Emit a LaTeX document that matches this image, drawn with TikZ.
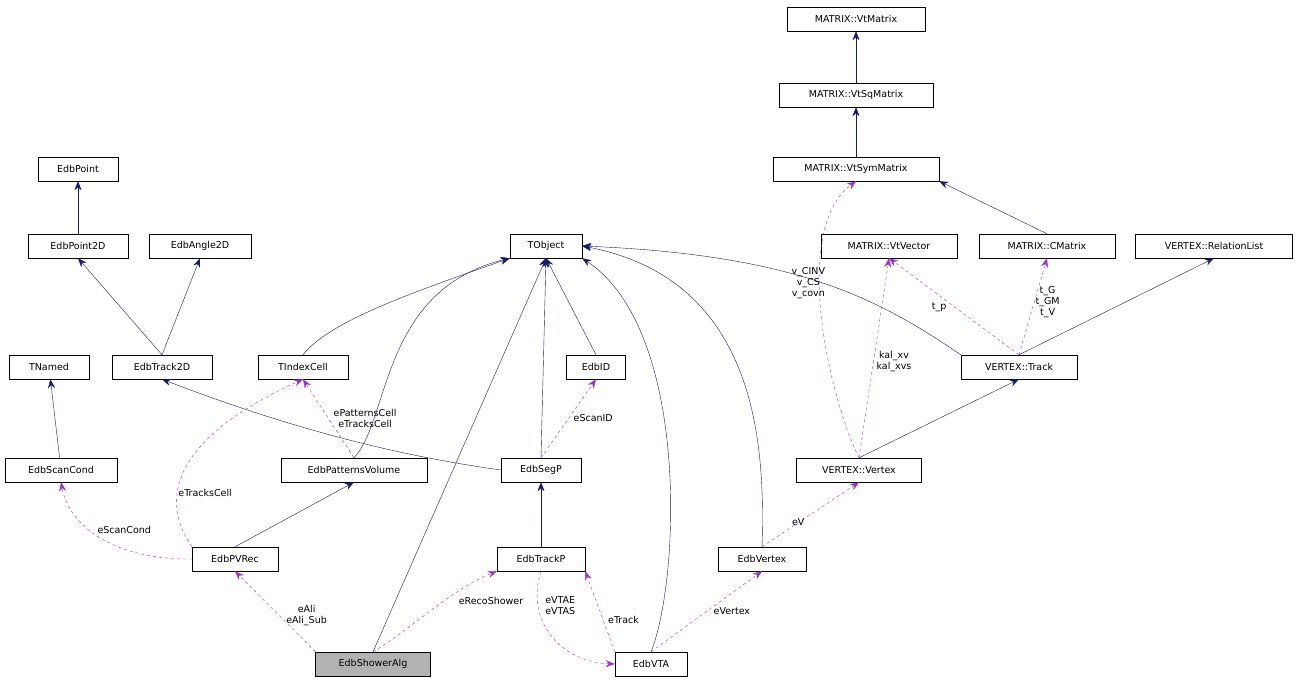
\documentclass[tikz,border=0pt]{standalone}
\usepackage{fontspec}
\setmainfont{DejaVu Sans}
\usetikzlibrary{arrows.meta, positioning}

\definecolor{inh}{HTML}{191970}
\definecolor{usg}{HTML}{9A32CD}
\tikzset{
  cls/.style={draw, fill=white, inner sep=0pt, minimum height=24pt, font=\fontsize{9.5}{11}\selectfont},
  inherit/.style={draw=inh, -{Stealth[length=9pt,width=7pt,fill=inh]}},
  uses/.style={draw=usg, dashed, -{Stealth[length=9pt,width=7pt,fill=usg]}},
  lbl/.style={font=\fontsize{9.5}{11}\selectfont, align=center, inner sep=1pt}
}

\begin{document}
\begin{tikzpicture}[x=1pt, y=-1pt]
  \useasboundingbox (0,0) rectangle (1298,684);

  % matrix library
  \node[cls, minimum width=138pt] (vtm) at (856,19) {MATRIX::VtMatrix};
  \node[cls, minimum width=154pt] (vtsq) at (856,95) {MATRIX::VtSqMatrix};
  \node[cls, minimum width=166pt] (vtsym) at (856,169) {MATRIX::VtSymMatrix};
  \node[cls, minimum width=136pt] (vtvec) at (889,246) {MATRIX::VtVector};
  \node[cls, minimum width=136pt] (cmat) at (1047,246) {MATRIX::CMatrix};
  \node[cls, minimum width=157pt] (rlist) at (1214,246) {VERTEX::RelationList};
  \node[cls, minimum width=116pt] (vtrack) at (1019,367) {VERTEX::Track};
  \node[cls, minimum width=125pt] (vvertex) at (859,470) {VERTEX::Vertex};

  % edb classes
  \node[cls, minimum width=80pt] (point) at (78,169) {EdbPoint};
  \node[cls, minimum width=100pt] (point2d) at (78,246) {EdbPoint2D};
  \node[cls, minimum width=102pt] (angle2d) at (200,246) {EdbAngle2D};
  \node[cls, minimum width=72pt] (tobject) at (546,246) {TObject};
  \node[cls, minimum width=80pt] (tnamed) at (49,367) {TNamed};
  \node[cls, minimum width=100pt] (track2d) at (162,367) {EdbTrack2D};
  \node[cls, minimum width=90pt] (tindex) at (303,367) {TIndexCell};
  \node[cls, minimum width=59pt] (edbid) at (596,367) {EdbID};
  \node[cls, minimum width=112pt] (scancond) at (61,470) {EdbScanCond};
  \node[cls, minimum width=146pt] (patvol) at (354,470) {EdbPatternsVolume};
  \node[cls, minimum width=80pt] (segp) at (541,470) {EdbSegP};
  \node[cls, minimum width=86pt] (pvrec) at (235,559) {EdbPVRec};
  \node[cls, minimum width=88pt] (trackp) at (541,559) {EdbTrackP};
  \node[cls, minimum width=88pt] (vertex) at (762,559) {EdbVertex};
  \node[cls, minimum width=115pt, fill=black!30] (shower) at (373,664) {EdbShowerAlg};
  \node[cls, minimum width=72pt] (vta) at (651,664) {EdbVTA};

  % inheritance
  \draw[inherit] (vtsq) -- (vtm);
  \draw[inherit] (vtsym) -- (vtsq);
  \draw[inherit] (cmat.north) -- (vtsym.south east);
  \draw[inherit] (point2d) -- (point);
  \draw[inherit] (track2d.north) -- (point2d.south);
  \draw[inherit] (track2d.north) -- (angle2d.south);
  \draw[inherit] (scancond) -- (tnamed);
  \draw[inherit] (tindex.north) .. controls (330,320) and (420,290) .. (tobject.south west);
  \draw[inherit] (patvol.north) .. controls (390,420) and (380,290) .. (tobject.south west);
  \draw[inherit] (shower.north) -- (tobject.south);
  \draw[inherit] (segp.north) -- (tobject.south);
  \draw[inherit] (edbid.north) -- (tobject.south);
  \draw[inherit] (vta.north) .. controls (680,580) and (690,330) .. (tobject.south east);
  \draw[inherit] (vertex.north) .. controls (765,450) and (760,280) .. (tobject.east);
  \draw[inherit] (vtrack.north west) .. controls (880,300) and (800,255) .. (tobject.east);
  \draw[inherit] (vtrack.north) -- (rlist.south);
  \draw[inherit] (vvertex.north) -- (vtrack.south);
  \draw[inherit] (pvrec.north) -- (patvol.south);
  \draw[inherit] (segp.west) .. controls (430,460) and (320,440) .. (track2d.south);
  \draw[inherit] (trackp) -- (segp);

  % usage
  \draw[uses] (pvrec.west) .. controls (120,560) and (70,530) .. (scancond.south)
    node[lbl, pos=0.55, above right] {eScanCond};
  \draw[uses] (pvrec.north west) .. controls (160,500) and (170,440) .. (tindex.south)
    node[lbl, pos=0.35, right] {eTracksCell};
  \draw[uses] (patvol.north) -- (tindex.south)
    node[lbl, pos=0.5, right=4pt] {ePatternsCell\\eTracksCell};
  \draw[uses] (segp.north) -- (edbid.south)
    node[lbl, pos=0.5, right=4pt] {eScanID};
  \draw[uses] (vvertex.north) .. controls (830,400) and (790,230) .. (vtsym.south)
    node[lbl, pos=0.6, left=-6pt] {v\_CINV\\v\_CS\\v\_covn};
  \draw[uses] (vvertex.north) -- (vtvec.south)
    node[lbl, pos=0.48, right=2pt] {kal\_xv\\kal\_xvs};
  \draw[uses] (vtrack.north) -- (vtvec.south)
    node[lbl, pos=0.55, below left] {t\_p};
  \draw[uses] (vtrack.north) -- (cmat.south)
    node[lbl, pos=0.55, right] {t\_G\\t\_GM\\t\_V};
  \draw[uses] (vertex.north) -- (vvertex.south)
    node[lbl, pos=0.45, below left] {eV};
  \draw[uses] (shower.north west) -- (pvrec.south)
    node[lbl, pos=0.45, right=6pt] {eAli\\eAli\_Sub};
  \draw[uses] (shower.north) .. controls (410,630) and (450,590) .. (trackp.south west)
    node[lbl, pos=0.6, right=14pt] {eRecoShower};
  \draw[uses] (trackp.south) .. controls (525,620) and (560,662) .. (vta.west)
    node[lbl, pos=0.25, right=6pt] {eVTAE\\eVTAS};
  \draw[uses] (vta.north west) -- (trackp.south east)
    node[lbl, pos=0.4, right=4pt] {eTrack};
  \draw[uses] (vta.north) -- (vertex.south)
    node[lbl, pos=0.5, right=6pt] {eVertex};
\end{tikzpicture}
\end{document}
